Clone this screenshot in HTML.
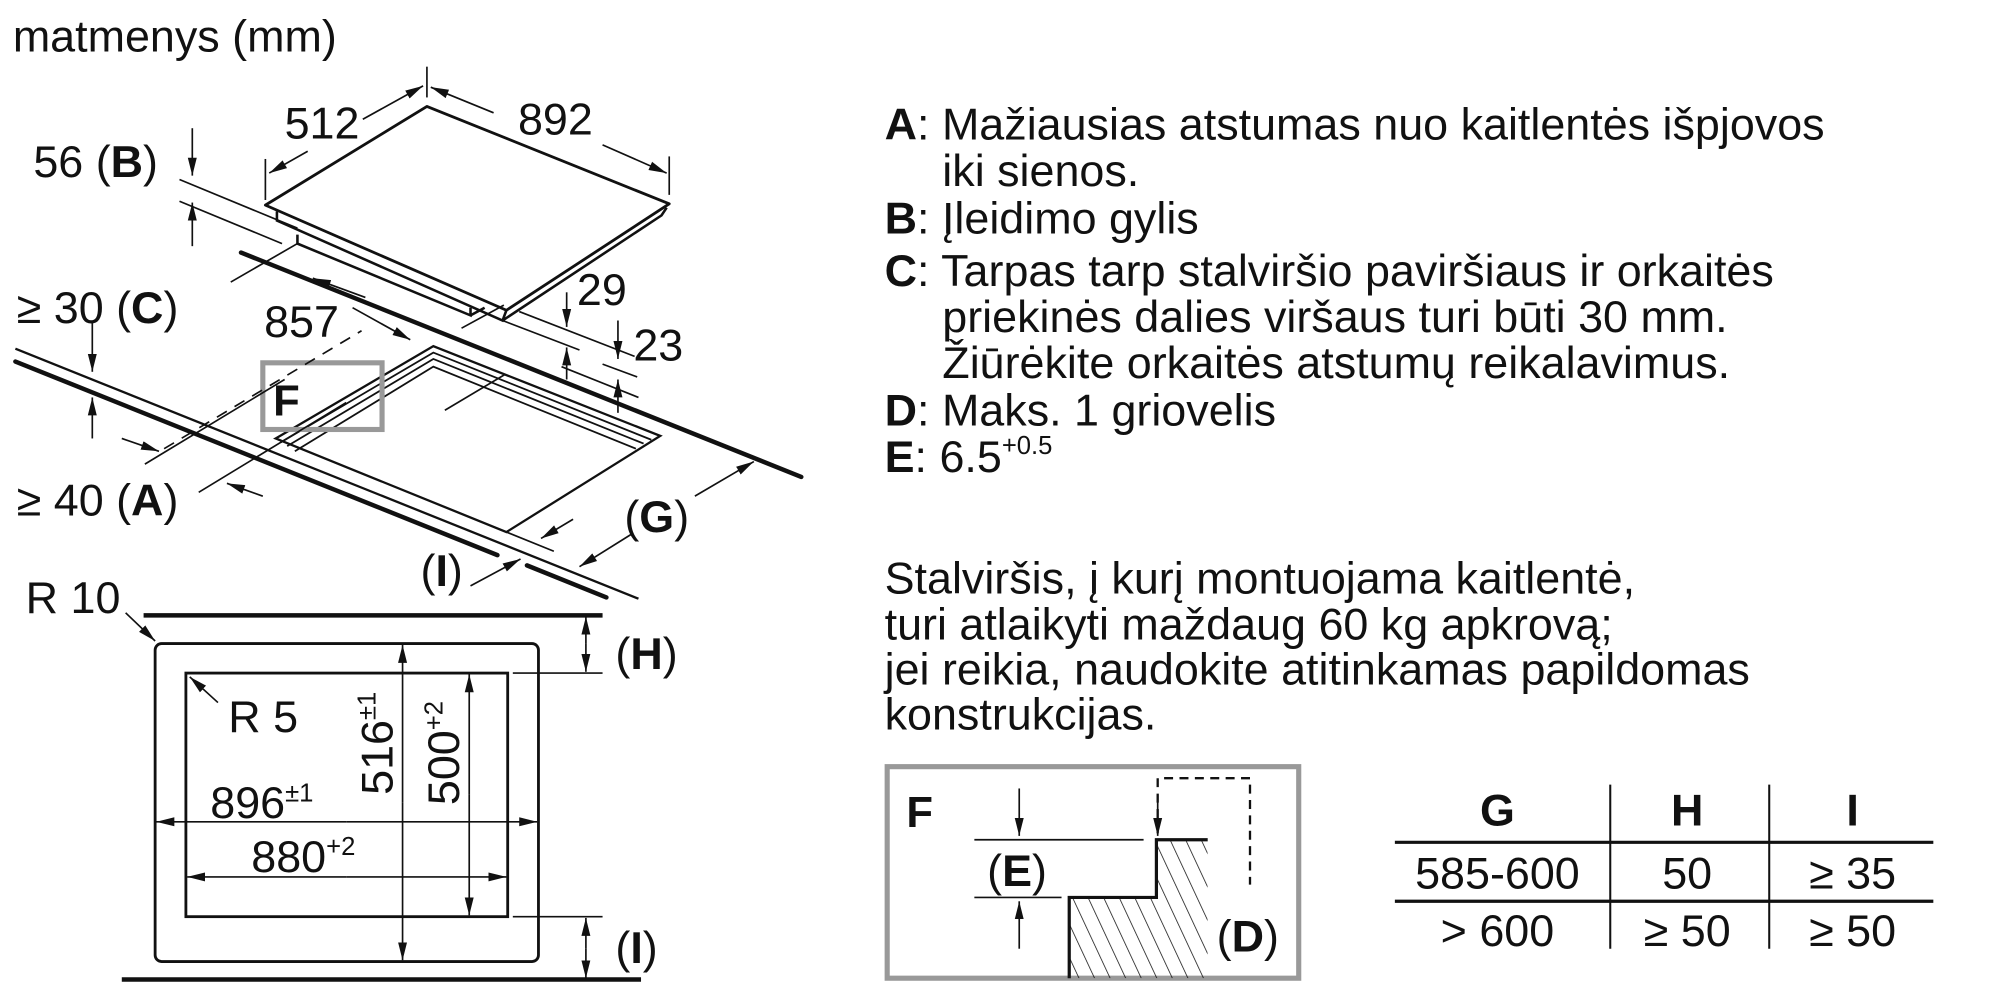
<!DOCTYPE html>
<html><head><meta charset="utf-8"><style>
html,body{margin:0;padding:0;background:#fff;width:2000px;height:1000px;overflow:hidden}
svg{display:block}
text{font-family:"Liberation Sans",Arial,sans-serif;fill:#111}
</style></head><body>
<svg width="2000" height="1000" viewBox="0 0 1560 780" preserveAspectRatio="none" xmlns="http://www.w3.org/2000/svg">
<defs>
<marker id="b" viewBox="0 0 10 10" refX="10" refY="5" markerWidth="14" markerHeight="14" markerUnits="userSpaceOnUse" orient="auto"><path d="M0,2.5 L10,5 L0,7.5 Z" fill="#111"/></marker>
<pattern id="h" patternUnits="userSpaceOnUse" width="11" height="11" patternTransform="rotate(-25)"><line x1="0" y1="0" x2="0" y2="11" stroke="#111" stroke-width="1.2"/></pattern>
<clipPath id="hc"><path d="M834,700 L902,700 L902,655 L942,655 L942,763 L834,763 Z"/></clipPath>
</defs>
<g stroke="#111" fill="none" stroke-width="1.3">
<path d="M207,160 L333,83 L522,159 L395,242 Z" stroke-width="2.2" stroke-linejoin="round"/>
<path d="M216,165 L216,172 L392,250 L395,242 M392,250 L516,168 L520,162" stroke-width="2"/>
<path d="M232,183 L232,190 L367,246 L367,240 M367,246 L378,240" stroke-width="2"/>
<line x1="188" y1="197" x2="625" y2="372" stroke-width="3.5" stroke-linecap="round"/>
<line x1="12" y1="272" x2="498" y2="467" stroke-width="1.8"/>
<line x1="12" y1="282" x2="388" y2="433" stroke-width="3.5" stroke-linecap="round"/>
<line x1="411" y1="441" x2="473" y2="466" stroke-width="3.5" stroke-linecap="round"/>
<path d="M215,342 L338,270 L515,340 L395,415 Z" stroke-width="1.8"/>
<path d="M219,345 L338,275 L508,343" stroke-width="1.4"/>
<path d="M224,348 L338,280 L502,346" stroke-width="1.4"/>
<path d="M230,352 L338,286 L496,350" stroke-width="1.4"/>
<rect x="205" y="283" width="93" height="52" stroke="#999" stroke-width="4"/>
<line x1="333" y1="52" x2="333" y2="76"/>
<line x1="207" y1="124" x2="207" y2="156"/>
<line x1="522" y1="122" x2="522" y2="152"/>
<line x1="240" y1="118" x2="210" y2="135" marker-end="url(#b)"/>
<line x1="283" y1="93" x2="330" y2="67" marker-end="url(#b)"/>
<line x1="385" y1="88" x2="336" y2="68" marker-end="url(#b)"/>
<line x1="470" y1="113" x2="520" y2="135" marker-end="url(#b)"/>
<line x1="150" y1="100" x2="150" y2="137" marker-end="url(#b)"/>
<line x1="150" y1="192" x2="150" y2="158" marker-end="url(#b)"/>
<line x1="140" y1="140" x2="232" y2="178"/>
<line x1="140" y1="157" x2="220" y2="190"/>
<line x1="180" y1="220" x2="232" y2="190"/>
<line x1="285" y1="232" x2="244" y2="217" marker-end="url(#b)"/>
<line x1="347" y1="320" x2="394" y2="292"/>
<line x1="128" y1="350" x2="282" y2="258" stroke-dasharray="9,7"/>
<line x1="275" y1="240" x2="320" y2="265" marker-end="url(#b)"/>
<line x1="393" y1="238" x2="360" y2="256"/>
<line x1="72" y1="252" x2="72" y2="290" marker-end="url(#b)"/>
<line x1="72" y1="342" x2="72" y2="310" marker-end="url(#b)"/>
<line x1="95" y1="342" x2="124" y2="352" marker-end="url(#b)"/>
<line x1="205" y1="387" x2="177" y2="377" marker-end="url(#b)"/>
<line x1="113" y1="362" x2="222" y2="296"/>
<line x1="155" y1="384" x2="270" y2="314"/>
<line x1="438" y1="286" x2="498" y2="310"/>
<line x1="392" y1="250" x2="452" y2="273"/>
<line x1="405" y1="243" x2="495" y2="278"/>
<line x1="470" y1="284" x2="497" y2="294"/>
<line x1="442" y1="228" x2="442" y2="255" marker-end="url(#b)"/>
<line x1="442" y1="296" x2="442" y2="271" marker-end="url(#b)"/>
<line x1="482" y1="250" x2="482" y2="280" marker-end="url(#b)"/>
<line x1="482" y1="322" x2="482" y2="296" marker-end="url(#b)"/>
<line x1="542" y1="387" x2="588" y2="360" marker-end="url(#b)"/>
<line x1="492" y1="417" x2="452" y2="442" marker-end="url(#b)"/>
<line x1="395" y1="415" x2="432" y2="430"/>
<line x1="447" y1="405" x2="422" y2="420" marker-end="url(#b)"/>
<line x1="367" y1="457" x2="406" y2="436" marker-end="url(#b)"/>
<line x1="112" y1="480" x2="470" y2="480" stroke-width="3.5"/>
<line x1="95" y1="764" x2="500" y2="764" stroke-width="3.5"/>
<rect x="121" y="502" width="299" height="248" rx="5" stroke-width="2.2"/>
<rect x="145" y="525" width="251" height="190" stroke-width="2.2"/>
<line x1="98" y1="478" x2="121" y2="500" marker-end="url(#b)"/>
<line x1="170" y1="548" x2="148" y2="528" marker-end="url(#b)"/>
<line x1="314" y1="626" x2="314" y2="503" marker-end="url(#b)"/>
<line x1="314" y1="626" x2="314" y2="749" marker-end="url(#b)"/>
<line x1="366" y1="620" x2="366" y2="526" marker-end="url(#b)"/>
<line x1="366" y1="620" x2="366" y2="714" marker-end="url(#b)"/>
<line x1="270" y1="641" x2="122" y2="641" marker-end="url(#b)"/>
<line x1="270" y1="641" x2="419" y2="641" marker-end="url(#b)"/>
<line x1="270" y1="684" x2="146" y2="684" marker-end="url(#b)"/>
<line x1="270" y1="684" x2="395" y2="684" marker-end="url(#b)"/>
<line x1="400" y1="525" x2="470" y2="525"/>
<line x1="400" y1="715" x2="470" y2="715"/>
<line x1="457" y1="502" x2="457" y2="481" marker-end="url(#b)"/>
<line x1="457" y1="502" x2="457" y2="524" marker-end="url(#b)"/>
<line x1="457" y1="740" x2="457" y2="716" marker-end="url(#b)"/>
<line x1="457" y1="740" x2="457" y2="763" marker-end="url(#b)"/>
<rect x="692" y="598" width="321" height="165" stroke="#999" stroke-width="4"/>
<path d="M834,700 L902,700 L902,655 L942,655 L942,763 L834,763 Z" fill="url(#h)" stroke="none" clip-path="url(#hc)"/>
<path d="M834,763 L834,700 L902,700 L902,655 L942,655" stroke-width="2.5"/>
<path d="M903,650 L903,607 L975,607 L975,690" stroke-dasharray="7,5" stroke-width="1.8"/>
<line x1="903" y1="620" x2="903" y2="652" marker-end="url(#b)"/>
<line x1="795" y1="615" x2="795" y2="652" marker-end="url(#b)"/>
<line x1="795" y1="740" x2="795" y2="703" marker-end="url(#b)"/>
<line x1="760" y1="655" x2="892" y2="655"/>
<line x1="760" y1="700" x2="828" y2="700"/>
<line x1="1256" y1="612" x2="1256" y2="740" stroke-width="1.6"/>
<line x1="1380" y1="612" x2="1380" y2="740" stroke-width="1.6"/>
<line x1="1088" y1="657" x2="1508" y2="657" stroke-width="2.5"/>
<line x1="1088" y1="703" x2="1508" y2="703" stroke-width="2.5"/>
</g>
<g font-size="35">
<text x="10" y="40">matmenys (mm)</text>
<text x="222" y="108">512</text>
<text x="404" y="105">892</text>
<text x="26" y="138">56 (<tspan font-weight="bold">B</tspan>)</text>
<text x="13" y="252">≥ 30 (<tspan font-weight="bold">C</tspan>)</text>
<text x="206" y="263">857</text>
<text x="450" y="238">29</text>
<text x="494" y="281">23</text>
<text x="13" y="402">≥ 40 (<tspan font-weight="bold">A</tspan>)</text>
<text x="487" y="415">(<tspan font-weight="bold">G</tspan>)</text>
<text x="328" y="457">(<tspan font-weight="bold">I</tspan>)</text>
<text x="213" y="324" font-weight="bold" font-size="34">F</text>
<text x="20" y="478">R 10</text>
<text x="178" y="571">R 5</text>
<text x="480" y="522">(<tspan font-weight="bold">H</tspan>)</text>
<text x="480" y="751">(<tspan font-weight="bold">I</tspan>)</text>
<text x="164" y="638">896<tspan font-size="20" dy="-13">±1</tspan></text>
<text x="196" y="680">880<tspan font-size="20" dy="-13">+2</tspan></text>
<text transform="translate(306,620) rotate(-90)">516<tspan font-size="20" dy="-13">±1</tspan></text>
<text transform="translate(358,628) rotate(-90)">500<tspan font-size="20" dy="-13">+2</tspan></text>
<text x="707" y="645" font-weight="bold" font-size="34">F</text>
<text x="770" y="691">(<tspan font-weight="bold">E</tspan>)</text>
<text x="949" y="742">(<tspan font-weight="bold">D</tspan>)</text>
<g text-anchor="middle">
<text x="1168" y="644" font-weight="bold">G</text>
<text x="1316" y="644" font-weight="bold">H</text>
<text x="1445" y="644" font-weight="bold">I</text>
<text x="1168" y="693">585-600</text>
<text x="1316" y="693">50</text>
<text x="1445" y="693">≥ 35</text>
<text x="1168" y="738">&gt; 600</text>
<text x="1316" y="738">≥ 50</text>
<text x="1445" y="738">≥ 50</text>
</g>
</g>
<g font-size="35">
<text x="690" y="109"><tspan font-weight="bold">A</tspan>: Mažiausias atstumas nuo kaitlentės išpjovos</text>
<text x="735" y="145">iki sienos.</text>
<text x="690" y="182"><tspan font-weight="bold">B</tspan>: Įleidimo gylis</text>
<text x="690" y="223"><tspan font-weight="bold">C</tspan>: Tarpas tarp stalviršio paviršiaus ir orkaitės</text>
<text x="735" y="259">priekinės dalies viršaus turi būti 30 mm.</text>
<text x="735" y="295">Žiūrėkite orkaitės atstumų reikalavimus.</text>
<text x="690" y="332"><tspan font-weight="bold">D</tspan>: Maks. 1 griovelis</text>
<text x="690" y="368"><tspan font-weight="bold">E</tspan>: 6.5<tspan font-size="20" dy="-14">+0.5</tspan></text>
<text x="690" y="463">Stalviršis, į kurį montuojama kaitlentė,</text>
<text x="690" y="499">turi atlaikyti maždaug 60 kg apkrovą;</text>
<text x="690" y="534">jei reikia, naudokite atitinkamas papildomas</text>
<text x="690" y="569">konstrukcijas.</text>
</g>
</svg>
</body></html>
